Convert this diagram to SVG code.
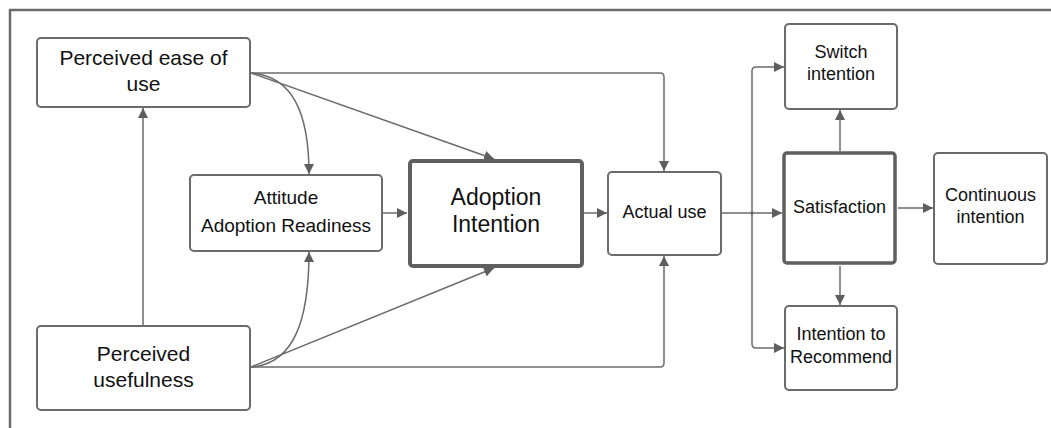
<svg xmlns="http://www.w3.org/2000/svg" width="1051" height="428" viewBox="0 0 1051 428">
<style>
.box{fill:#fff;stroke:#6b6b6b;stroke-width:2}
.bold{fill:#fff;stroke:#5f5f5f;stroke-width:4}
.bold3{fill:#fff;stroke:#5f5f5f;stroke-width:3.5}
.t{font-family:"Liberation Sans",Arial,sans-serif;fill:#111;text-anchor:middle;dominant-baseline:central}
.c{fill:none;stroke:#6b6b6b;stroke-width:1.5}
</style>
<defs>
<marker id="ah" viewBox="0 0 10 10" refX="10" refY="5" markerWidth="10" markerHeight="10" markerUnits="userSpaceOnUse" orient="auto">
<path d="M0,0 L10,5 L0,10 z" fill="#5e5e5e"/>
</marker>
</defs>
<rect width="1051" height="428" fill="#fff"/>
<path d="M10,440 L10,10 L1060,10" fill="none" stroke="#6b6b6b" stroke-width="2.5"/>
<g id="connectors">
<path class="c" d="M143,326 L143,108" marker-end="url(#ah)"/>
<path class="c" d="M251,73 L660,73 Q664,73 664,77 L664,171" marker-end="url(#ah)"/>
<path class="c" d="M251,73 L494,159" marker-end="url(#ah)"/>
<path class="c" d="M251,73 C292,76 309,112 309,174" marker-end="url(#ah)"/>
<path class="c" d="M251,367 L660,367 Q664,367 664,363 L664,256" marker-end="url(#ah)"/>
<path class="c" d="M251,367 L494,268" marker-end="url(#ah)"/>
<path class="c" d="M251,367 C295,364 309,318 309,252" marker-end="url(#ah)"/>
<path class="c" d="M383,213 L407,213" marker-end="url(#ah)"/>
<path class="c" d="M584,213 L607,213" marker-end="url(#ah)"/>
<path class="c" d="M722,213 L782,213" marker-end="url(#ah)"/>
<path class="c" d="M752,213 L752,71 Q752,67 756,67 L784,67" marker-end="url(#ah)"/>
<path class="c" d="M752,213 L752,344 Q752,348 756,348 L784,348" marker-end="url(#ah)"/>
<circle cx="752" cy="213" r="1.8" fill="#6b6b6b"/>
<path class="c" d="M840,151 L840,110" marker-end="url(#ah)"/>
<path class="c" d="M840,266 L840,305" marker-end="url(#ah)"/>
<path class="c" d="M898,208 L933,208" marker-end="url(#ah)"/>
</g>
<g id="peou">
<rect class="box" x="37" y="38" width="213" height="69" rx="4"/>
<text class="t" font-size="21"><tspan x="143.5" y="57">Perceived ease of</tspan><tspan x="143.5" y="83">use</tspan></text>
</g>
<g id="pu">
<rect class="box" x="37" y="326" width="213" height="84" rx="4"/>
<text class="t" font-size="21"><tspan x="143.5" y="353">Perceived</tspan><tspan x="143.5" y="379">usefulness</tspan></text>
</g>
<g id="attitude">
<rect class="box" x="190" y="175" width="192" height="76" rx="4"/>
<text class="t" font-size="19"><tspan x="286" y="197">Attitude</tspan><tspan x="286" y="225">Adoption Readiness</tspan></text>
</g>
<g id="adoption">
<rect class="bold" x="410" y="161" width="172" height="105" rx="3"/>
<text class="t" font-size="23"><tspan x="496" y="197">Adoption</tspan><tspan x="496" y="224">Intention</tspan></text>
</g>
<g id="actual">
<rect class="box" x="608" y="172" width="113" height="83" rx="4"/>
<text class="t" font-size="18" x="664.5" y="212">Actual use</text>
</g>
<g id="switch">
<rect class="box" x="785" y="24" width="112" height="85" rx="4"/>
<text class="t" font-size="18"><tspan x="841" y="52">Switch</tspan><tspan x="841" y="74">intention</tspan></text>
</g>
<g id="satisfaction">
<rect class="bold3" x="784" y="153" width="111" height="110" rx="3"/>
<text class="t" font-size="18" x="839.5" y="207">Satisfaction</text>
</g>
<g id="continuous">
<rect class="box" x="934" y="153" width="113" height="111" rx="4"/>
<text class="t" font-size="18"><tspan x="990.5" y="195">Continuous</tspan><tspan x="990.5" y="217">intention</tspan></text>
</g>
<g id="recommend">
<rect class="box" x="785" y="306" width="112" height="84" rx="4"/>
<text class="t" font-size="18"><tspan x="841" y="334">Intention to</tspan><tspan x="841" y="357">Recommend</tspan></text>
</g>
</svg>
